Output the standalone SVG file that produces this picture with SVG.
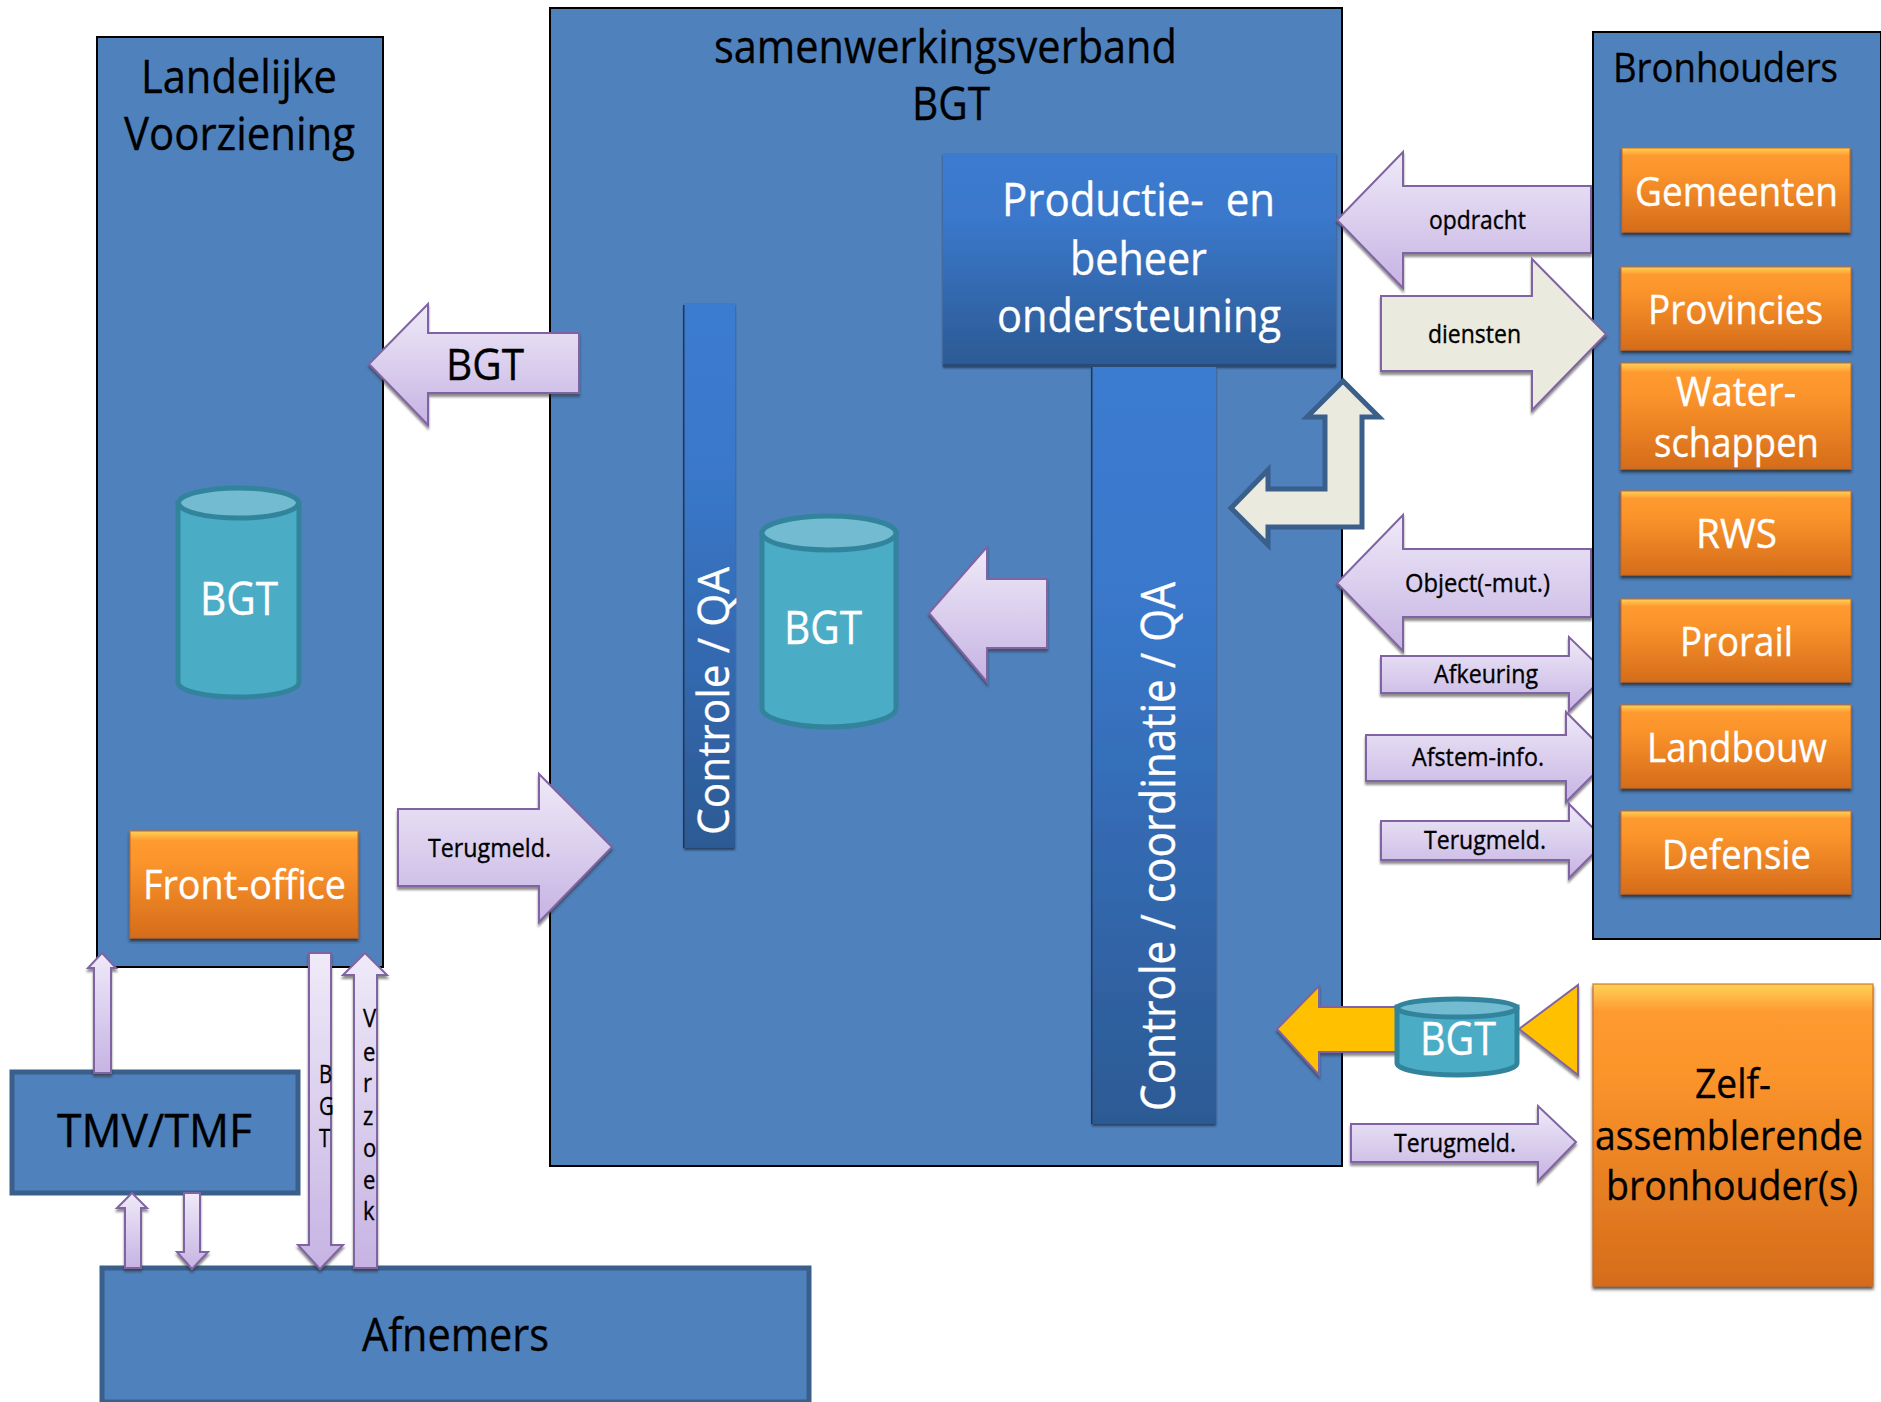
<svg xmlns="http://www.w3.org/2000/svg" width="1881" height="1402" viewBox="0 0 1881 1402">
<style>
text{font-family:"Open Sans","Noto Sans","Liberation Sans",sans-serif;fill:#000;stroke:#000;stroke-width:.35px;white-space:pre}
.w{fill:#fff;stroke:#fff}
.box{fill:#4f81bd;stroke:#000;stroke-width:2}
.sub{fill:#4f81bd;stroke:#3a5f8b;stroke-width:5}
.or{fill:url(#orange);stroke:#c8691d;stroke-opacity:.7;stroke-width:1.5;filter:url(#shd)}
.bar{fill:url(#bar);filter:url(#shs)}
.ar{fill:url(#lilac);stroke:#8064a2;stroke-width:2;stroke-linejoin:miter;filter:url(#sh)}
.cr{fill:#eaeadf;stroke:#8064a2;stroke-width:2;filter:url(#sh)}
.gold{fill:#ffc000;stroke:#8064a2;stroke-width:2;filter:url(#sh)}
.cyl{fill:#4bacc6;stroke:#31849b;stroke-width:5}
.cap{fill:#72bbd0;stroke:#31849b;stroke-width:5}
.f46{font-size:46px}.f41{font-size:41px}.f26{font-size:26px}
</style>
<defs>
<linearGradient id="lilac" x1="0" y1="0" x2="0" y2="1"><stop offset="0" stop-color="#efeaf8"/><stop offset="1" stop-color="#c6b3e3"/></linearGradient>
<linearGradient id="orange" x1="0" y1="0" x2="0" y2="1"><stop offset="0" stop-color="#ffd257"/><stop offset=".09" stop-color="#fe9a30"/><stop offset=".3" stop-color="#fb942b"/><stop offset="1" stop-color="#d56c1b"/></linearGradient>
<linearGradient id="bar" x1="0" y1="0" x2="0" y2="1"><stop offset="0" stop-color="#3a7bd0"/><stop offset=".3" stop-color="#3a78cb"/><stop offset="1" stop-color="#2c5a94"/></linearGradient>
<filter id="sh" x="-10%" y="-10%" width="120%" height="125%"><feDropShadow dx="0" dy="3" stdDeviation="1" flood-color="#333" flood-opacity=".55"/></filter>
<filter id="shd" x="-10%" y="-10%" width="120%" height="125%"><feDropShadow dx="0" dy="3" stdDeviation="1.5" flood-color="#222" flood-opacity=".75"/></filter>
<filter id="shs" x="-10%" y="-5%" width="120%" height="110%"><feDropShadow dx="0" dy="2" stdDeviation="1.2" flood-color="#1c2f4a" flood-opacity=".8"/></filter>
<clipPath id="cut"><rect x="0" y="0" width="1592" height="1402"/></clipPath>
</defs>
<rect width="1881" height="1402" fill="#fff"/>

<g id="landelijke-voorziening">
<rect class="box" x="97" y="37" width="286" height="930"/>
<text class="f46" x="141" y="93" textLength="196" lengthAdjust="spacingAndGlyphs">Landelijke</text>
<text class="f46" x="124" y="150" textLength="231" lengthAdjust="spacingAndGlyphs">Voorziening</text>
</g>
<g id="bgt-landelijk">
<path class="cyl" d="M178 503V682C178 691 205 697 238 697S299 691 299 682V503Z"/>
<ellipse class="cap" cx="238.500" cy="503" rx="60" ry="15"/>
<text class="f46 w" x="200" y="615" textLength="78" lengthAdjust="spacingAndGlyphs">BGT</text>
</g>
<g id="front-office">
<rect class="or" x="130" y="831" width="228" height="107"/>
<text class="f41 w" x="143" y="899" textLength="203" lengthAdjust="spacingAndGlyphs">Front-office</text>
</g>
<g id="samenwerkingsverband">
<rect class="box" x="550" y="8" width="792" height="1158"/>
<text class="f46" x="714" y="63" textLength="463" lengthAdjust="spacingAndGlyphs">samenwerkingsverband</text>
<text class="f46" x="912" y="120" textLength="78" lengthAdjust="spacingAndGlyphs">BGT</text>
</g>
<g id="productie-beheer">
<rect class="bar" x="943" y="153" width="393" height="213"/>
<rect x="943" y="364" width="393" height="3" fill="#2b4a73"/>
<text class="f46 w" x="1002" y="216" textLength="273" lengthAdjust="spacingAndGlyphs">Productie-  en</text>
<text class="f46 w" x="1070" y="275" textLength="137" lengthAdjust="spacingAndGlyphs">beheer</text>
<text class="f46 w" x="997" y="332" textLength="284" lengthAdjust="spacingAndGlyphs">ondersteuning</text>
</g>
<g id="controle-qa">
<rect class="bar" x="684" y="303" width="51" height="545"/>
<rect x="683" y="305" width="1.5" height="543" fill="#27364f"/>
<text class="w" font-size="44" transform="translate(729 835) rotate(-90)" textLength="268" lengthAdjust="spacingAndGlyphs">Controle / QA</text>
</g>
<g id="bgt-centraal">
<path class="cyl" d="M762 533V708C762 718 791 727 828.500 727S896 718 896 708V533Z"/>
<ellipse class="cap" cx="829" cy="533" rx="67" ry="17"/>
<text class="f46 w" x="784" y="644" textLength="78" lengthAdjust="spacingAndGlyphs">BGT</text>
</g>
<g id="controle-coordinatie-qa">
<rect class="bar" x="1092" y="367" width="124" height="757"/>
<rect x="1091" y="367" width="1.5" height="757" fill="#27364f"/>
<text class="w" font-size="47" transform="translate(1175 1111) rotate(-90)" textLength="529" lengthAdjust="spacingAndGlyphs">Controle / coordinatie / QA</text>
</g>
<g id="bronhouders">
<rect class="box" x="1593" y="32" width="288" height="907"/>
<text font-size="40" x="1613" y="82" textLength="225" lengthAdjust="spacingAndGlyphs">Bronhouders</text>
</g>
<g id="gemeenten"><rect class="or" x="1622" y="148" width="228" height="84"/><text class="f41 w" x="1635" y="206" textLength="203" lengthAdjust="spacingAndGlyphs">Gemeenten</text></g>
<g id="provincies"><rect class="or" x="1621" y="267" width="230" height="83"/><text class="f41 w" x="1648" y="324" textLength="175" lengthAdjust="spacingAndGlyphs">Provincies</text></g>
<g id="waterschappen"><rect class="or" x="1621" y="363" width="230" height="106"/><text class="f41 w" x="1676" y="406" textLength="120" lengthAdjust="spacingAndGlyphs">Water-</text><text class="f41 w" x="1654" y="457" textLength="165" lengthAdjust="spacingAndGlyphs">schappen</text></g>
<g id="rws"><rect class="or" x="1621" y="491" width="230" height="84"/><text class="f41 w" x="1696" y="548" textLength="81" lengthAdjust="spacingAndGlyphs">RWS</text></g>
<g id="prorail"><rect class="or" x="1621" y="599" width="230" height="83"/><text class="f41 w" x="1680" y="656" textLength="113" lengthAdjust="spacingAndGlyphs">Prorail</text></g>
<g id="landbouw"><rect class="or" x="1621" y="705" width="230" height="83"/><text class="f41 w" x="1647" y="762" textLength="180" lengthAdjust="spacingAndGlyphs">Landbouw</text></g>
<g id="defensie"><rect class="or" x="1621" y="811" width="230" height="83"/><text class="f41 w" x="1662" y="869" textLength="149" lengthAdjust="spacingAndGlyphs">Defensie</text></g>
<g id="zelfassemblerende-bronhouders">
<rect class="or" x="1593" y="984" width="280" height="302"/>
<text class="f41" x="1695" y="1098" textLength="76" lengthAdjust="spacingAndGlyphs">Zelf-</text>
<text class="f41" x="1595" y="1150" textLength="268" lengthAdjust="spacingAndGlyphs">assemblerende</text>
<text class="f41" x="1606" y="1200" textLength="252" lengthAdjust="spacingAndGlyphs">bronhouder(s)</text>
</g>
<g id="tmv-tmf">
<rect class="sub" x="12" y="1072" width="286" height="121"/>
<text font-size="45" x="57" y="1147" textLength="195" lengthAdjust="spacingAndGlyphs">TMV/TMF</text>
</g>
<g id="afnemers">
<rect class="sub" x="102" y="1268" width="707" height="134"/>
<text class="f46" x="362" y="1351" textLength="187" lengthAdjust="spacingAndGlyphs">Afnemers</text>
</g>

<g id="connectors">
<polygon class="ar" points="369,364 428,304 428,333 579,333 579,393 428,393 428,425"/>
<text font-size="44" x="446" y="380" textLength="78" lengthAdjust="spacingAndGlyphs">BGT</text>
<polygon class="ar" points="398,809 539,809 539,774 612,847 539,922 539,886 398,886"/>
<text font-size="26" x="428" y="857" textLength="123" lengthAdjust="spacingAndGlyphs">Terugmeld.</text>
<polygon class="ar" points="929,613 987,547 987,579 1047,579 1047,648 987,648 987,682"/>
<polygon class="ar" points="1337,220 1403,152 1403,186 1591,186 1591,253 1403,253 1403,288"/>
<text font-size="25" x="1429" y="229" textLength="97" lengthAdjust="spacingAndGlyphs">opdracht</text>
<polygon class="cr" points="1381,296 1532,296 1532,259 1606,334 1532,410 1532,371 1381,371"/>
<text font-size="25" x="1428" y="343" textLength="93" lengthAdjust="spacingAndGlyphs">diensten</text>
<polygon points="1343,381 1379,417 1362,417 1362,527 1268,527 1268,545 1231,508 1268,470 1268,489 1325,489 1325,417 1307,417" fill="#eaeadf" stroke="#3a5f8b" stroke-width="5"/>
<polygon class="ar" points="1337,583 1403,515 1403,549 1591,549 1591,617 1403,617 1403,651"/>
<text font-size="25" x="1405" y="592" textLength="145" lengthAdjust="spacingAndGlyphs">Object(-mut.)</text>
<g clip-path="url(#cut)">
<polygon class="ar" points="1381,656 1569,656 1569,637 1607,674 1569,711 1569,693 1381,693"/>
<polygon class="ar" points="1366,735 1566,735 1566,712 1611,757 1566,802 1566,781 1366,781"/>
<polygon class="ar" points="1381,821 1569,821 1569,804 1606,841 1569,878 1569,860 1381,860"/>
</g>
<text font-size="26" x="1434" y="683" textLength="104" lengthAdjust="spacingAndGlyphs">Afkeuring</text>
<text font-size="26" x="1412" y="766" textLength="132" lengthAdjust="spacingAndGlyphs">Afstem-info.</text>
<text font-size="26" x="1424" y="849" textLength="122" lengthAdjust="spacingAndGlyphs">Terugmeld.</text>
<polygon class="gold" points="1277,1029 1319,986 1319,1007 1400,1007 1400,1052 1319,1052 1319,1075"/>
<polygon class="gold" points="1519,1029 1578,985 1578,1075"/>
<polygon class="ar" points="1351,1124 1538,1124 1538,1106 1576,1142 1538,1181 1538,1162 1351,1162"/>
<text font-size="26" x="1394" y="1152" textLength="122" lengthAdjust="spacingAndGlyphs">Terugmeld.</text>
<polygon class="ar" points="102,953 116,968 111,968 111,1073 94,1073 94,968 88,968"/>
<polygon class="ar" points="132,1193 147,1208 141,1208 141,1268 125,1268 125,1208 117,1208"/>
<polygon class="ar" points="184,1193 200,1193 200,1252 208,1252 192,1269 177,1252 184,1252"/>
<polygon class="ar" points="309,953 331,953 331,1245 343,1245 320,1269 298,1245 309,1245"/>
<text class="f26" transform="translate(319 0) scale(.78 1)"><tspan x="0" y="1083">B</tspan><tspan x="0" y="1115">G</tspan><tspan x="0" y="1147">T</tspan></text>
<polygon class="ar" points="365,953 387,975 377,975 377,1268 354,1268 354,975 343,975"/>
<text class="f26" transform="translate(363 0) scale(.85 1)"><tspan x="0" y="1027">V</tspan><tspan x="0" y="1061">e</tspan><tspan x="0" y="1092">r</tspan><tspan x="0" y="1125">z</tspan><tspan x="0" y="1157">o</tspan><tspan x="0" y="1189">e</tspan><tspan x="0" y="1220">k</tspan></text>
</g>

<g id="bgt-bronhouder">
<path class="cyl" d="M1397 1007V1063C1397 1070 1424 1075 1457 1075S1517 1070 1517 1063V1007Z"/>
<ellipse class="cap" cx="1457" cy="1008" rx="60" ry="9"/>
<text class="f46 w" x="1420" y="1055" textLength="76" lengthAdjust="spacingAndGlyphs">BGT</text>
</g>
</svg>
